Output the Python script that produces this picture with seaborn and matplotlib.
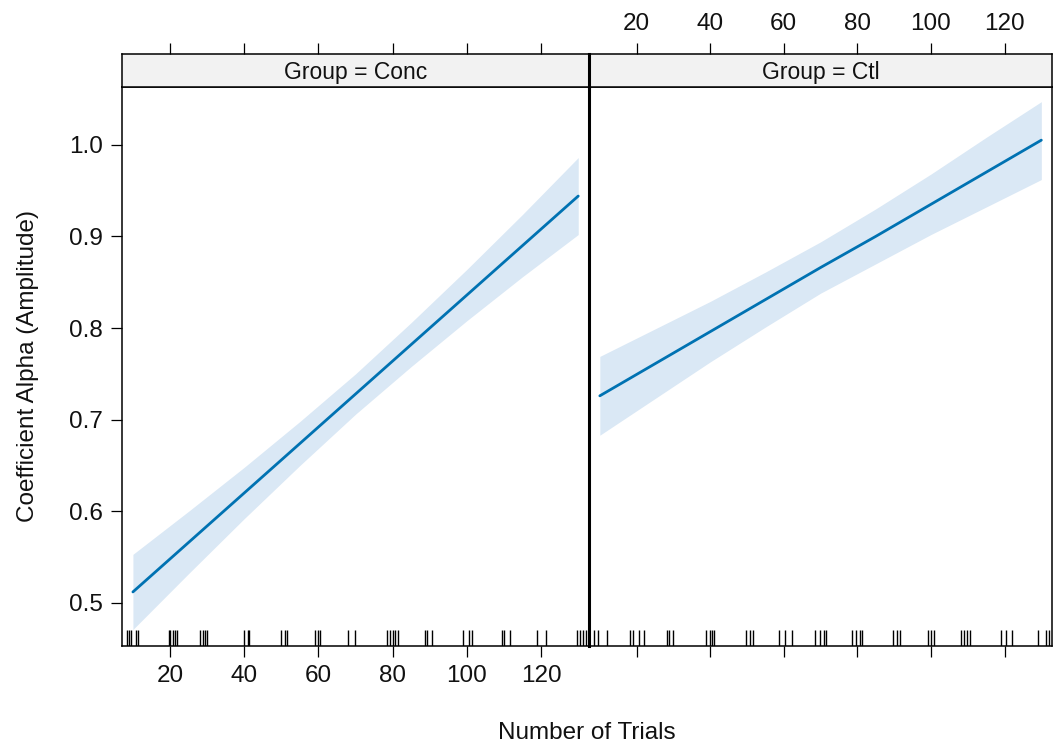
import pandas as pd
import seaborn as sns
import matplotlib.pyplot as plt

# valores (efecto de Trials por grupo)
trials = [10, 25, 40, 55, 70, 85, 100, 115, 130]
conc_fit = [0.512, 0.566, 0.620, 0.674, 0.728, 0.782, 0.836, 0.890, 0.944]
conc_low = [0.471, 0.532, 0.592, 0.650, 0.706, 0.758, 0.808, 0.856, 0.902]
conc_up = [0.553, 0.600, 0.648, 0.698, 0.750, 0.806, 0.864, 0.924, 0.986]
ctl_fit = [0.726, 0.761, 0.796, 0.831, 0.866, 0.900, 0.935, 0.970, 1.005]
ctl_low = [0.683, 0.723, 0.763, 0.801, 0.838, 0.870, 0.902, 0.932, 0.962]
ctl_up = [0.769, 0.799, 0.829, 0.861, 0.894, 0.930, 0.968, 1.008, 1.047]

# rug (posiciones con jitter)
conc_rug = [8.4, 8.9, 9.5, 10.9, 11.4, 19.6, 20.1, 20.7, 21.3, 21.8, 28.2, 29.0, 29.5, 30.0,
            39.9, 41.0, 41.4, 50.0, 50.9, 51.4, 59.0, 59.9, 60.5, 68.0, 69.8, 78.6, 79.4, 80.0,
            80.6, 81.4, 88.6, 89.2, 90.5, 99.0, 100.5, 101.5, 109.5, 110.0, 111.7, 118.9, 121.2,
            129.7, 130.6, 131.2, 132.0]
ctl_rug = [8.5, 9.6, 11.9, 18.2, 19.1, 20.7, 22.1, 28.2, 28.8, 30.0, 38.8, 40.0, 40.6, 41.1,
           49.6, 50.7, 51.7, 58.6, 60.4, 62.2, 68.6, 69.9, 70.8, 71.4, 78.6, 79.7, 80.7, 81.2,
           89.8, 90.7, 91.6, 99.2, 100.1, 100.8, 108.3, 109.0, 109.8, 110.5, 119.1, 120.5, 122.1,
           129.0, 131.3, 132.0]

groups = ['Conc', 'Ctl']
xticks = [20, 40, 60, 80, 100, 120]
yticks = [0.5, 0.6, 0.7, 0.8, 0.9, 1.0]

sns.set_theme(style='white')
plt.rcParams['font.family'] = ['Liberation Sans', 'DejaVu Sans']

line_col = '#0072B2'
band_col = '#DAE8F5'
fs = 17.5

fig = plt.figure(figsize=(10.53, 7.48), dpi=100)
W, H = 1053, 748
x0, xm, x1 = 122, 589, 1052
ybot, ytop, stop = 646, 87, 54

panels = [(x0, xm, groups[0], conc_fit, conc_low, conc_up, conc_rug),
          (xm, x1, groups[1], ctl_fit, ctl_low, ctl_up, ctl_rug)]

for i, (a, b, g, fit, low, up, rug) in enumerate(panels):
    ax = fig.add_axes([a / W, 1 - ybot / H, (b - a) / W, (ybot - ytop) / H])
    st = fig.add_axes([a / W, 1 - ytop / H, (b - a) / W, (ytop - stop) / H])

    df = pd.DataFrame({'Trials': trials, 'fit': fit})
    ax.fill_between(trials, low, up, color=band_col, lw=0)
    sns.lineplot(data=df, x='Trials', y='fit', ax=ax, color=line_col, lw=2)
    sns.rugplot(x=rug, ax=ax, height=0.029, color='black', lw=1.3)

    ax.set_xlim(7.06, 132.9)
    ax.set_ylim(0.453, 1.063)
    ax.set_xticks(xticks)
    ax.set_xlabel('')
    ax.set_ylabel('')
    if i == 0:
        ax.set_yticks(yticks)
        ax.set_yticklabels([f'{v:.1f}' for v in yticks])
        ax.set_xticklabels([str(v) for v in xticks])
    else:
        ax.set_yticks([])
        ax.set_xticklabels([])

    st.set_xlim(7.06, 132.9)
    st.set_ylim(0, 1)
    st.set_facecolor('#F2F2F2')
    st.set_yticks([])
    st.set_xticks(xticks)
    st.xaxis.tick_top()
    if i == 1:
        st.set_xticklabels([str(v) for v in xticks])
    else:
        st.set_xticklabels([])
    st.text(0.5, 0.45, f'Group = {g}', transform=st.transAxes, ha='center', va='center',
            fontsize=fs - 1, color='#111111')

    for axx in (ax, st):
        for s in axx.spines.values():
            s.set_visible(True)
            s.set_color('black')
            s.set_linewidth(1.1)
        axx.tick_params(direction='out', length=8, width=0.9, color='black',
                        labelsize=fs, labelcolor='#111111', pad=6)
        axx.tick_params(axis='x', bottom=(axx is ax), top=(axx is st))
        axx.tick_params(axis='y', left=(axx is ax and i == 0))
    if i == 1:
        ax.spines['left'].set_linewidth(2.2)
        st.spines['left'].set_linewidth(2.2)

fig.text((x0 + x1) / 2 / W, 1 - 733 / H, 'Number of Trials', ha='center', va='center',
         fontsize=fs, color='#111111')
fig.text(28 / W, 1 - 366 / H, 'Coefficient Alpha (Amplitude)', rotation=90, ha='center',
         va='center', fontsize=fs, color='#111111')

fig.savefig('out.png', dpi=100)
